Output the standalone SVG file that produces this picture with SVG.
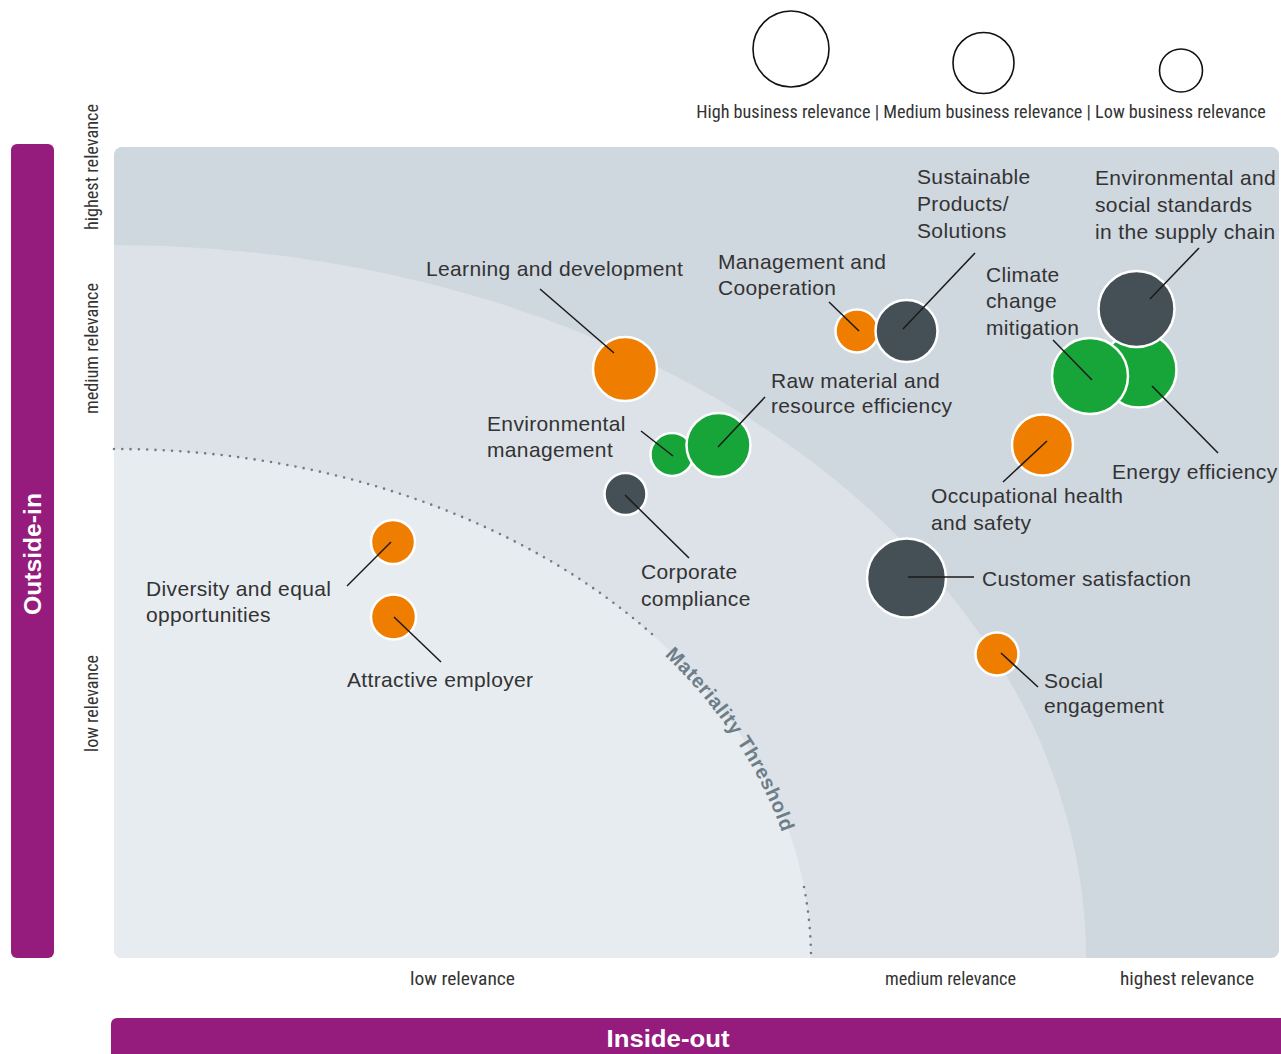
<svg xmlns="http://www.w3.org/2000/svg" width="1281" height="1054" viewBox="0 0 1281 1054">
  <style>
    .lbl { font-family: "Liberation Sans", Arial, sans-serif; font-size: 21px; letter-spacing: 0.35px; fill: #333; }
    .ax { font-family: "Liberation Sans Narrow", "Roboto Condensed", "Liberation Sans", Arial, sans-serif; font-size: 19px; fill: #333; }
    .legtxt { font-size: 18.2px; }
    .bar { font-family: "Liberation Sans", Arial, sans-serif; font-size: 23px; font-weight: bold; fill: #fff; }
    .thr { font-family: "Liberation Sans", Arial, sans-serif; font-size: 20px; font-weight: bold; fill: #6e7e88; letter-spacing: 0.8px; }
    .orange { fill: #ef7d00; stroke: #fff; stroke-width: 2.5; }
    .green { fill: #17a53a; stroke: #fff; stroke-width: 2.5; }
    .dark { fill: #444f56; stroke: #fff; stroke-width: 2.5; }
    .leg { fill: none; stroke: #111; stroke-width: 1.6; }
    .conn line { stroke: #1a1a1a; stroke-width: 1.5; }
    .dots { fill: none; stroke: #6e7e88; stroke-width: 2.6; stroke-linecap: round; stroke-dasharray: 0 8.3; }
  </style>
  <defs>
    <clipPath id="chartClip">
      <rect x="114" y="147" width="1165" height="811" rx="8"/>
    </clipPath>
    <path id="thrPath" d="M668,649 A697,509 0 0,1 811,958"/>
  </defs>

  <rect width="1281" height="1054" fill="#fff"/>

  <!-- legend -->
  <g id="legend">
    <circle class="leg" cx="791" cy="49" r="38"/>
    <circle class="leg" cx="983.5" cy="63" r="30.5"/>
    <circle class="leg" cx="1181" cy="70.5" r="21.5"/>
    <text class="ax legtxt" x="981" y="118" text-anchor="middle">High business relevance | Medium business relevance | Low business relevance</text>
  </g>

  <!-- chart background -->
  <g id="chart-bg" clip-path="url(#chartClip)">
    <rect x="114" y="147" width="1165" height="811" fill="#cfd7df"/>
    <path d="M114,245 A972,713 0 0,1 1086,958 L114,958 Z" fill="#dce2e7"/>
    <path d="M114,449 A697,509 0 0,1 811,958 L114,958 Z" fill="#e7ecf0"/>
  </g>

  <!-- materiality threshold -->
  <g id="threshold">
    <path class="dots" d="M114,449 A697,509 0 0,1 653,635"/>
    <path class="dots" d="M804,887 A697,509 0 0,1 811,958"/>
    <text class="thr" dy="7"><textPath href="#thrPath" startOffset="2">Materiality Threshold</textPath></text>
  </g>

  <!-- side bars -->
  <g id="outside-in">
    <rect x="11" y="144" width="43" height="814" rx="6" fill="#951b7d"/>
    <text class="bar" transform="translate(41,554) rotate(-90)" text-anchor="middle" textLength="122" lengthAdjust="spacingAndGlyphs">Outside-in</text>
  </g>
  <g id="inside-out">
    <rect x="111" y="1018" width="1175" height="50" rx="6" fill="#951b7d"/>
    <text class="bar" x="668" y="1047" text-anchor="middle" textLength="123" lengthAdjust="spacingAndGlyphs">Inside-out</text>
  </g>

  <!-- axis labels -->
  <g id="axis-labels">
    <text class="ax" transform="translate(98,167) rotate(-90)" text-anchor="middle" textLength="126" lengthAdjust="spacingAndGlyphs">highest relevance</text>
    <text class="ax" transform="translate(98,348.5) rotate(-90)" text-anchor="middle" textLength="131" lengthAdjust="spacingAndGlyphs">medium relevance</text>
    <text class="ax" transform="translate(98,703.5) rotate(-90)" text-anchor="middle" textLength="97" lengthAdjust="spacingAndGlyphs">low relevance</text>
    <text class="ax" x="462.5" y="985" text-anchor="middle" textLength="105" lengthAdjust="spacingAndGlyphs">low relevance</text>
    <text class="ax" x="950.5" y="985" text-anchor="middle" textLength="131" lengthAdjust="spacingAndGlyphs">medium relevance</text>
    <text class="ax" x="1187" y="985" text-anchor="middle" textLength="134" lengthAdjust="spacingAndGlyphs">highest relevance</text>
  </g>

  <!-- bubbles -->
  <g id="learning-development">
    <circle class="orange" cx="625" cy="369" r="32"/>
    <text class="lbl" x="426" y="276">Learning and development</text>
  </g>
  <g id="management-cooperation">
    <circle class="orange" cx="857" cy="331" r="21.5"/>
    <text class="lbl" x="718" y="269">Management and</text>
    <text class="lbl" x="718" y="295">Cooperation</text>
  </g>
  <g id="sustainable-products">
    <circle class="dark" cx="906.5" cy="331" r="31"/>
    <text class="lbl" x="917" y="184">Sustainable</text>
    <text class="lbl" x="917" y="211">Products/</text>
    <text class="lbl" x="917" y="238">Solutions</text>
  </g>
  <g id="energy-efficiency">
    <circle class="green" cx="1139" cy="370" r="37.5"/>
    <text class="lbl" x="1112" y="479">Energy efficiency</text>
  </g>
  <g id="climate-change">
    <circle class="green" cx="1090" cy="376" r="38"/>
    <text class="lbl" x="986" y="282">Climate</text>
    <text class="lbl" x="986" y="308">change</text>
    <text class="lbl" x="986" y="335">mitigation</text>
  </g>
  <g id="supply-chain">
    <circle class="dark" cx="1136.5" cy="309" r="38"/>
    <text class="lbl" x="1095" y="185">Environmental and</text>
    <text class="lbl" x="1095" y="212">social standards</text>
    <text class="lbl" x="1095" y="239">in the supply chain</text>
  </g>
  <g id="occupational-health">
    <circle class="orange" cx="1042.5" cy="445" r="30.5"/>
    <text class="lbl" x="931" y="503">Occupational health</text>
    <text class="lbl" x="931" y="530">and safety</text>
  </g>
  <g id="environmental-management">
    <circle class="green" cx="672" cy="454.5" r="21.5"/>
    <text class="lbl" x="487" y="431">Environmental</text>
    <text class="lbl" x="487" y="457">management</text>
  </g>
  <g id="raw-material">
    <circle class="green" cx="718.5" cy="445" r="32"/>
    <text class="lbl" x="771" y="388">Raw material and</text>
    <text class="lbl" x="771" y="413">resource efficiency</text>
  </g>
  <g id="corporate-compliance">
    <circle class="dark" cx="625.5" cy="494" r="21"/>
    <text class="lbl" x="641" y="579">Corporate</text>
    <text class="lbl" x="641" y="606">compliance</text>
  </g>
  <g id="customer-satisfaction">
    <circle class="dark" cx="906.5" cy="578" r="39.5"/>
    <text class="lbl" x="982" y="586">Customer satisfaction</text>
  </g>
  <g id="social-engagement">
    <circle class="orange" cx="997" cy="654" r="21.5"/>
    <text class="lbl" x="1044" y="688">Social</text>
    <text class="lbl" x="1044" y="713">engagement</text>
  </g>
  <g id="diversity">
    <circle class="orange" cx="393" cy="542" r="22"/>
    <text class="lbl" x="146" y="596">Diversity and equal</text>
    <text class="lbl" x="146" y="622">opportunities</text>
  </g>
  <g id="attractive-employer">
    <circle class="orange" cx="393.5" cy="617" r="22.5"/>
    <text class="lbl" x="347" y="687">Attractive employer</text>
  </g>

  <!-- connectors -->
  <g id="connectors" class="conn">
    <line x1="540" y1="289" x2="614" y2="353"/>
    <line x1="829" y1="302" x2="859" y2="331"/>
    <line x1="975" y1="253" x2="903" y2="329"/>
    <line x1="1199" y1="248" x2="1150" y2="299"/>
    <line x1="1053" y1="340" x2="1092" y2="380"/>
    <line x1="1152" y1="386" x2="1218" y2="453"/>
    <line x1="1047" y1="441" x2="1003" y2="482"/>
    <line x1="765" y1="397" x2="718" y2="447"/>
    <line x1="641" y1="431" x2="673" y2="456"/>
    <line x1="625" y1="495" x2="689" y2="558"/>
    <line x1="908" y1="577" x2="974" y2="577"/>
    <line x1="1001" y1="653" x2="1038" y2="687"/>
    <line x1="391" y1="542" x2="347" y2="586"/>
    <line x1="394" y1="617" x2="441" y2="662"/>
  </g>
</svg>
